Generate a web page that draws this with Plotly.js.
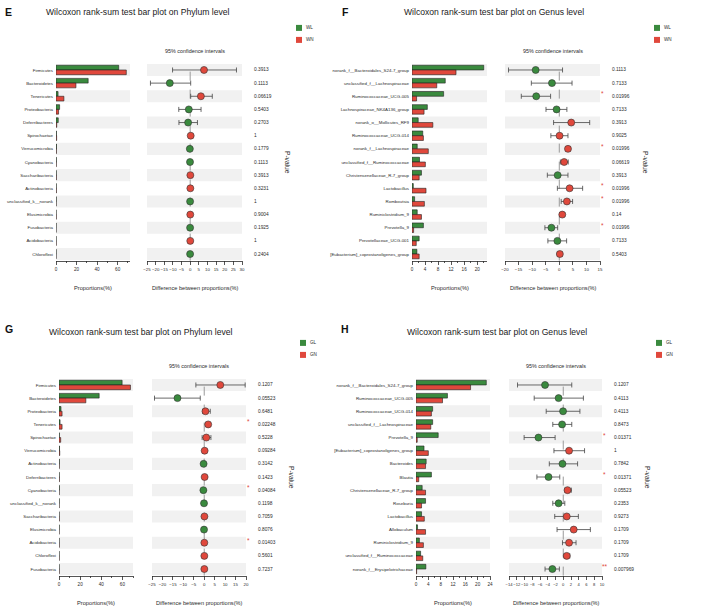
<!DOCTYPE html>
<html>
<head>
<meta charset="utf-8">
<script src="https://cdn.plot.ly/plotly-3.0.1.min.js"></script>
<style>html,body{margin:0;padding:0;background:#fff;}#chart{width:708px;height:609px;}</style>
</head>
<body>
<div id="chart"></div>
<script>
// ---------------- DATA ----------------
// Panel E : Phylum level, WL vs WN
const E_taxa = ["Firmicutes","Bacteroidetes","Tenericutes","Proteobacteria","Deferribacteres","Spirochaetae","Verrucomicrobia","Cyanobacteria","Saccharibacteria","Actinobacteria","unclassified_k__norank","Elusimicrobia","Fusobacteria","Acidobacteria","Chloroflexi"];
const E_groups = ["WL","WN"];
const E_WL = [61.0,31.3,2.0,3.5,2.2,0.4,0.5,0.3,0.2,0.2,0.2,0.1,0.1,0.1,0.1];
const E_WN = [68.4,19.4,7.7,2.5,0.7,0.6,0.3,0.2,0.3,0.3,0.1,0.2,0.05,0.15,0.05];
const E_diff = [8.0,-11.8,6.2,-0.8,-1.2,0.3,-0.2,-0.1,0.1,0.1,-0.05,0.05,-0.05,0.05,-0.05];
const E_lo = [-10.2,-23.0,0.3,-6.6,-6.5,-0.2,-0.6,-0.4,-0.3,-0.3,-0.3,-0.2,-0.3,-0.2,-0.3];
const E_hi = [26.8,0.3,12.8,6.3,4.2,0.8,0.2,0.2,0.5,0.5,0.2,0.3,0.2,0.3,0.2];
const E_p = [0.3913,0.1113,0.06619,0.5403,0.2703,1,0.1779,0.1113,0.3913,0.3231,1,0.9004,0.1925,1,0.2404];

// Panel F : Genus level, WL vs WN
const F_taxa = ["norank_f__Bacteroidales_S24-7_group","unclassified_f__Lachnospiraceae","Ruminococcaceae_UCG-005","Lachnospiraceae_NK4A136_group","norank_o__Mollicutes_RF9","Ruminococcaceae_UCG-014","norank_f__Lachnospiraceae","unclassified_f__Ruminococcaceae","Christensenellaceae_R-7_group","Lactobacillus","Romboutsia","Ruminiclostridium_9","Prevotella_9","Prevotellaceae_UCG-001","[Eubacterium]_coprostanoligenes_group"];
const F_groups = ["WL","WN"];
const F_WL = [22.0,10.2,9.7,4.7,1.9,3.3,1.6,2.3,2.9,0.4,0.8,1.6,3.5,2.2,1.5];
const F_WN = [13.5,7.6,1.4,3.7,6.4,3.5,5.0,4.1,2.2,4.3,3.8,2.9,0.5,1.3,2.2];
const F_diff = [-8.7,-2.7,-8.5,-1.0,4.4,0.1,3.2,1.8,-0.6,3.8,2.8,1.1,-2.9,-0.7,0.2];
const F_lo = [-18.7,-10.3,-14.0,-4.9,-2.1,-3.1,2.3,0.4,-4.4,-0.7,0.7,0.2,-5.3,-4.2,-0.7];
const F_hi = [1.2,4.7,-3.2,2.8,11.2,3.2,4.1,3.3,3.2,8.6,4.9,2.0,-0.6,2.7,1.1];
const F_p = [0.1113,0.7133,0.01996,0.7133,0.3913,0.9025,0.01996,0.06619,0.3913,0.01996,0.01996,0.14,0.01996,0.7133,0.5403];

// Panel G : Phylum level, GL vs GN
const G_taxa = ["Firmicutes","Bacteroidetes","Proteobacteria","Tenericutes","Spirochaetae","Verrucomicrobia","Actinobacteria","Deferribacteres","Cyanobacteria","unclassified_k__norank","Saccharibacteria","Elusimicrobia","Acidobacteria","Chloroflexi","Fusobacteria"];
const G_groups = ["GL","GN"];
const G_GL = [59.7,38.0,1.9,1.0,0.3,0.5,0.3,0.2,0.3,0.2,0.1,0.2,0.1,0.1,0.1];
const G_GN = [67.6,25.4,2.9,2.9,1.6,0.7,0.2,0.3,0.1,0.1,0.2,0.1,0.15,0.15,0.15];
const G_diff = [7.7,-12.8,0.6,1.9,1.0,0.2,-0.3,0.2,-0.4,-0.1,0.1,-0.1,0.05,0.05,0.05];
const G_lo = [-4.0,-23.8,-0.8,0.8,-1.0,-0.3,-0.8,-0.2,-0.8,-0.4,-0.2,-0.4,0.0,-0.2,-0.2];
const G_hi = [19.6,-1.9,2.9,3.0,3.2,0.7,0.2,0.6,-0.05,0.2,0.4,0.2,0.1,0.3,0.3];
const G_p = [0.1207,0.05523,0.6481,0.02248,0.5228,0.09284,0.3142,0.1423,0.04084,0.1198,0.7059,0.8076,0.01403,0.5601,0.7237];

// Panel H : Genus level, GL vs GN
const H_taxa = ["norank_f__Bacteroidales_S24-7_group","Ruminococcaceae_UCG-005","Ruminococcaceae_UCG-014","unclassified_f__Lachnospiraceae","Prevotella_9","[Eubacterium]_coprostanoligenes_group","Bacteroides","Blautia","Christensenellaceae_R-7_group","Roseburia","Lactobacillus","Allobaculum","Ruminiclostridium_9","unclassified_f__Ruminococcaceae","norank_f__Erysipelotrichaceae"];
const H_groups = ["GL","GN"];
const H_GL = [22.8,10.2,5.4,5.4,7.2,2.6,3.3,5.0,2.0,3.1,1.8,0.5,1.1,1.5,3.2];
const H_GN = [17.7,8.6,5.0,4.8,0.4,4.0,3.1,0.9,3.1,1.8,2.7,3.1,2.4,2.2,0.2];
const H_diff = [-4.7,-1.2,-0.05,-0.3,-6.4,1.5,-0.2,-3.8,1.1,-1.2,0.9,2.7,1.5,0.9,-2.8];
const H_lo = [-11.8,-7.5,-4.4,-2.7,-10.1,-2.4,-3.6,-6.8,0.4,-2.7,-2.2,-1.6,-0.2,0.2,-4.7];
const H_hi = [2.2,5.2,4.3,2.2,-2.1,5.5,3.7,-0.9,2.1,0.4,3.9,7.0,3.3,1.7,-1.0];
const H_p = [0.1207,0.4113,0.4113,0.8473,0.01371,1,0.7842,0.01371,0.05523,0.2353,0.9273,0.1709,0.1709,0.1709,0.007969];

const titles = ["Wilcoxon rank-sum test bar plot on Phylum level","Wilcoxon rank-sum test bar plot on Genus level","Wilcoxon rank-sum test bar plot on Phylum level","Wilcoxon rank-sum test bar plot on Genus level"];
const letters = ["E","F","G","H"];

// ---------------- LAYOUT HELPERS ----------------
const W = 708, H = 609;
const fx = p => p / W, fy = p => 1 - p / H;
const GREEN = '#3a8a3e', RED = '#e0483c', INK = '#2a2a2a';
const FONT = '"Liberation Sans",Arial,Helvetica,sans-serif';

const panels = [
  {taxa:E_taxa, groups:E_groups, a:E_WL, b:E_WN, diff:E_diff, lo:E_lo, hi:E_hi, p:E_p,
   bar:[56,130], barRange:[0,72], barDtick:20, barMinor:10, ci:[147,242], ciRange:[-25,30], ciDtick:5,
   yDom:[63.4,260.6], titleX:137, titleY:12, letterX:8.5, letterY:12},
  {taxa:F_taxa, groups:F_groups, a:F_WL, b:F_WN, diff:F_diff, lo:F_lo, hi:F_hi, p:F_p,
   bar:[412,487], barRange:[0,23], barDtick:4, barMinor:2, ci:[505,600], ciRange:[-20,15], ciDtick:5,
   yDom:[63.4,260.6], titleX:494, titleY:12, letterX:345, letterY:12},
  {taxa:G_taxa, groups:G_groups, a:G_GL, b:G_GN, diff:G_diff, lo:G_lo, hi:G_hi, p:G_p,
   bar:[59,133], barRange:[0,70], barDtick:20, barMinor:10, ci:[152,246], ciRange:[-25,20], ciDtick:5,
   yDom:[378.4,575.6], titleX:140, titleY:332, letterX:8.5, letterY:329},
  {taxa:H_taxa, groups:H_groups, a:H_GL, b:H_GN, diff:H_diff, lo:H_lo, hi:H_hi, p:H_p,
   bar:[416,490], barRange:[0,24], barDtick:4, barMinor:2, ci:[509,602], ciRange:[-14,10], ciDtick:2,
   yDom:[378.4,575.6], titleX:497, titleY:332, letterX:345, letterY:329}
];

const data = [];
const layout = {
  width: W, height: H, margin: {l:0, r:0, t:0, b:0},
  paper_bgcolor: '#ffffff', plot_bgcolor: 'rgba(0,0,0,0)',
  showlegend: false, barmode: 'group', bargap: 0.28, bargroupgap: 0,
  font: {family: FONT, color: INK, size: 6},
  shapes: [], annotations: []
};

panels.forEach((P, k) => {
  const n1 = 2*k + 1, n2 = 2*k + 2;
  const xa1 = 'x' + n1, ya1 = 'y' + n1, xa2 = 'x' + n2, ya2 = 'y' + n2;
  const yDomain = [fy(P.yDom[1]), fy(P.yDom[0])];
  const N = P.taxa.length;

  const xBase = {showline:true, linecolor:INK, linewidth:0.8, ticks:'outside', ticklen:3.5, tickwidth:0.8,
    tickcolor:INK, tick0:0, tickangle:0, showgrid:false, zeroline:false, fixedrange:true, ticklabelstandoff:1,
    tickfont:{family:FONT, size:4.6, color:INK}};
  layout['xaxis' + n1] = Object.assign({}, xBase, {domain:[fx(P.bar[0]), fx(P.bar[1])], range:P.barRange,
    dtick:P.barDtick, anchor:ya1, minor:{dtick:P.barMinor, ticks:'outside', ticklen:2, tickwidth:0.8, tickcolor:INK, showgrid:false}});
  layout['xaxis' + n2] = Object.assign({}, xBase, {domain:[fx(P.ci[0]), fx(P.ci[1])], range:P.ciRange,
    dtick:P.ciDtick, anchor:ya2, tickfont:{family:FONT, size:(P.ciDtick === 2 ? 4.1 : 4.4), color:INK}});
  const yBase = {domain:yDomain, type:'category', categoryorder:'array', categoryarray:P.taxa,
    range:[N - 0.5, -0.5], showgrid:false, zeroline:false, showline:false, ticks:'', fixedrange:true};
  layout['yaxis' + n1] = Object.assign({}, yBase, {anchor:xa1, tickfont:{family:FONT, size:4.4, color:INK}, ticklabelstandoff:2});
  layout['yaxis' + n2] = Object.assign({}, yBase, {anchor:xa2, showticklabels:false});

  // alternating background bands
  for (let i = 0; i < N; i += 2) {
    [n1, n2].forEach(n => {
      layout.shapes.push({type:'rect', xref:'x' + n + ' domain', yref:'y' + n, x0:0, x1:1,
        y0:i - 0.46, y1:i + 0.46, fillcolor:'#f1f1f1', line:{width:0}, layer:'below'});
    });
  }
  // dashed zero line
  layout.shapes.push({type:'line', xref:xa2, yref:ya2 + ' domain', x0:0, x1:0, y0:0, y1:1,
    line:{color:'#9a9a9a', width:1, dash:'dash'}, layer:'below'});

  // bars
  data.push({type:'bar', orientation:'h', name:P.groups[0], x:P.a, y:P.taxa, xaxis:xa1, yaxis:ya1,
    marker:{color:GREEN, line:{color:'#222', width:0.6}}, hoverinfo:'x+y'});
  data.push({type:'bar', orientation:'h', name:P.groups[1], x:P.b, y:P.taxa, xaxis:xa1, yaxis:ya1,
    marker:{color:RED, line:{color:'#222', width:0.6}}, hoverinfo:'x+y'});

  // CI points
  data.push({type:'scatter', mode:'markers', x:P.diff, y:P.taxa, xaxis:xa2, yaxis:ya2,
    marker:{size:7, color:P.diff.map(d => d < 0 ? GREEN : RED), line:{color:'#333', width:0.6}},
    error_x:{type:'data', symmetric:false, array:P.hi.map((h, i) => h - P.diff[i]),
      arrayminus:P.diff.map((d, i) => d - P.lo[i]), color:'#444', thickness:0.8, width:2.5},
    cliponaxis:false});

  // p-values and significance stars
  P.p.forEach((pv, i) => {
    layout.annotations.push({xref:'paper', yref:ya2, x:fx(P.ci[1] + 10), y:i, xanchor:'left', yanchor:'middle',
      text:String(pv), showarrow:false, font:{family:FONT, size:4.8, color:INK}});
    const star = pv < 0.01 ? '**' : (pv < 0.05 ? '*' : '');
    if (star) layout.annotations.push({xref:'paper', yref:ya2, x:fx(P.ci[1] + 2.5), y:i, xanchor:'center', yanchor:'middle',
      yshift:2.5, text:star, showarrow:false, font:{family:FONT, size:6.5, color:RED}});
  });

  const ciMid = (P.ci[0] + P.ci[1]) / 2, barMid = (P.bar[0] + P.bar[1]) / 2;
  const yMid = (P.yDom[0] + P.yDom[1]) / 2;
  const ann = (x, y, text, size, extra) => layout.annotations.push(Object.assign({xref:'paper', yref:'paper',
    x:fx(x), y:fy(y), text:text, showarrow:false, xanchor:'center', yanchor:'middle',
    font:{family:FONT, size:size, color:INK}}, extra || {}));

  ann(P.ci[1] + 46, yMid, 'P-value', 6.6, {textangle:90});
  ann(ciMid, P.yDom[0] - 12.5, '95% confidence intervals', 5.4);
  ann(barMid, P.yDom[1] + 27.5, 'Proportions(%)', 5.7);
  ann(ciMid, P.yDom[1] + 27.5, 'Difference between proportions(%)', 5.6);
  ann(P.titleX, P.titleY, titles[k], 8.6, {font:{family:FONT, size:8.6, color:'#1a1a1a'}});
  ann(P.letterX, P.letterY, '<b>' + letters[k] + '</b>', 10.5, {font:{family:FONT, size:10.5, color:'#111'}});

  // legend swatches + labels
  const lx = P.ci[1] + 54, ly = P.yDom[0] - 35.5;
  [GREEN, RED].forEach((c, j) => {
    layout.shapes.push({type:'rect', xref:'paper', yref:'paper', x0:fx(lx), x1:fx(lx + 6),
      y0:fy(ly + j*12 + 3), y1:fy(ly + j*12 - 3), fillcolor:c, line:{width:0}});
    ann(lx + 8, ly + j*12, P.groups[j], 4.6, {xanchor:'left'});
  });
});

Plotly.newPlot('chart', data, layout, {displayModeBar:false, staticPlot:true});
</script>
</body>
</html>
